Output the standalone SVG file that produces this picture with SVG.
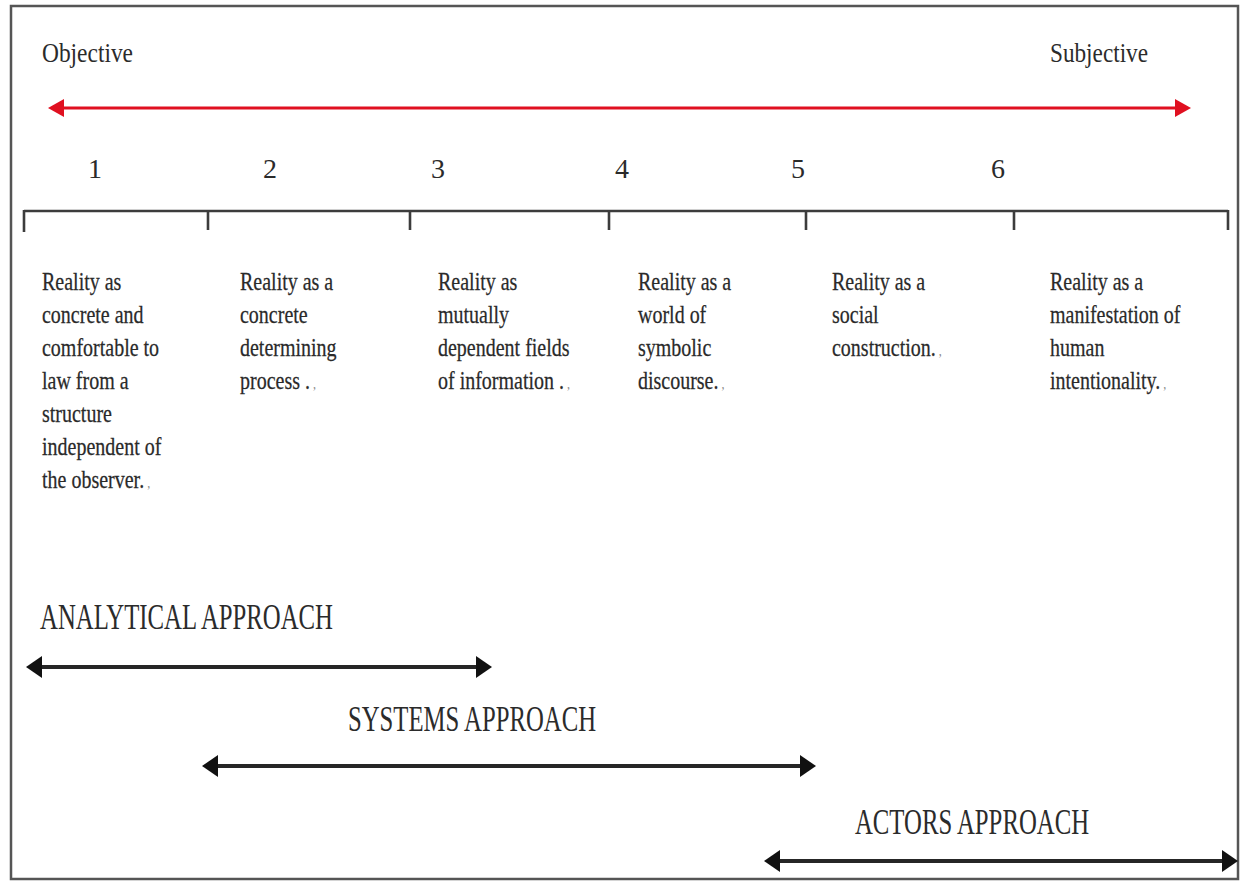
<svg xmlns="http://www.w3.org/2000/svg" width="1241" height="882" viewBox="0 0 1241 882">
  <style>
    .frame { fill: #ffffff; stroke: #555555; stroke-width: 2.5; }
    .pole { font-family: "Liberation Serif", "Times New Roman", serif; font-size: 28px; fill: #2b2b2b; }
    .num { font-family: "Liberation Serif", "Times New Roman", serif; font-size: 28px; fill: #2b2b2b; text-anchor: middle; }
    .desc { font-family: "Liberation Serif", "Times New Roman", serif; font-size: 25px; fill: #2a2a2a; stroke: #2a2a2a; stroke-width: 0.25; }
    .pm { font-size: 15px; fill: #888888; stroke: none; }
    .appr { font-family: "Liberation Serif", "Times New Roman", serif; font-size: 36px; fill: #2b2b2b; }
    .scale { stroke: #3c3c3c; stroke-width: 2.6; fill: none; }
    .axis { stroke: #e01020; stroke-width: 3; fill: none; }
    .span { stroke: #262626; stroke-width: 4; fill: none; }
  </style>
  <defs>
    <marker id="head-red" viewBox="0 0 16 18" refX="12" refY="9" markerWidth="16" markerHeight="18" markerUnits="userSpaceOnUse" orient="auto-start-reverse">
      <path d="M0,0 L16,9 L0,18 z" fill="#e01020"/>
    </marker>
    <marker id="head-black" viewBox="0 0 16 22" refX="12" refY="11" markerWidth="16" markerHeight="22" markerUnits="userSpaceOnUse" orient="auto-start-reverse">
      <path d="M0,0 L16,11 L0,22 z" fill="#111111"/>
    </marker>
  </defs>

  <!-- outer border -->
  <rect class="frame" x="11" y="6" width="1227" height="873"/>

  <!-- end labels of the objective/subjective axis -->
  <g id="label-objective">
    <text class="pole" x="42" y="62" textLength="91" lengthAdjust="spacingAndGlyphs">Objective</text>
  </g>
  <g id="label-subjective">
    <text class="pole" x="1050" y="62" textLength="98" lengthAdjust="spacingAndGlyphs">Subjective</text>
  </g>

  <!-- position numbers -->
  <g id="numbers">
    <text class="num" x="95" y="178">1</text>
    <text class="num" x="270" y="178">2</text>
    <text class="num" x="438" y="178">3</text>
    <text class="num" x="622" y="178">4</text>
    <text class="num" x="798" y="178">5</text>
    <text class="num" x="998" y="178">6</text>
  </g>

  <!-- segmented scale bar -->
  <g id="scale">
    <path class="scale" d="M24,211 H1228"/>
    <path class="scale" d="M24,210 V232 M208,210 V230 M410,210 V230 M609,210 V230 M806,210 V230 M1014,210 V230 M1228,210 V230"/>
  </g>

  <!-- descriptions of reality, one per segment -->
  <g id="pos-1">
    <text class="desc" transform="translate(42 290) scale(0.8 1)">
      <tspan x="0" y="0">Reality as</tspan>
      <tspan x="0" y="33">concrete and</tspan>
      <tspan x="0" y="66">comfortable to</tspan>
      <tspan x="0" y="99">law from a</tspan>
      <tspan x="0" y="132">structure</tspan>
      <tspan x="0" y="165">independent of</tspan>
      <tspan x="0" y="198">the observer.<tspan class="pm"> ,</tspan></tspan>
    </text>
  </g>
  <g id="pos-2">
    <text class="desc" transform="translate(240 290) scale(0.8 1)">
      <tspan x="0" y="0">Reality as a</tspan>
      <tspan x="0" y="33">concrete</tspan>
      <tspan x="0" y="66">determining</tspan>
      <tspan x="0" y="99">process .<tspan class="pm"> ,</tspan></tspan>
    </text>
  </g>
  <g id="pos-3">
    <text class="desc" transform="translate(438 290) scale(0.8 1)">
      <tspan x="0" y="0">Reality as</tspan>
      <tspan x="0" y="33">mutually</tspan>
      <tspan x="0" y="66">dependent fields</tspan>
      <tspan x="0" y="99">of information .<tspan class="pm"> ,</tspan></tspan>
    </text>
  </g>
  <g id="pos-4">
    <text class="desc" transform="translate(638 290) scale(0.8 1)">
      <tspan x="0" y="0">Reality as a</tspan>
      <tspan x="0" y="33">world of</tspan>
      <tspan x="0" y="66">symbolic</tspan>
      <tspan x="0" y="99">discourse.<tspan class="pm"> ,</tspan></tspan>
    </text>
  </g>
  <g id="pos-5">
    <text class="desc" transform="translate(832 290) scale(0.8 1)">
      <tspan x="0" y="0">Reality as a</tspan>
      <tspan x="0" y="33">social</tspan>
      <tspan x="0" y="66">construction.<tspan class="pm"> ,</tspan></tspan>
    </text>
  </g>
  <g id="pos-6">
    <text class="desc" transform="translate(1050 290) scale(0.8 1)">
      <tspan x="0" y="0">Reality as a</tspan>
      <tspan x="0" y="33">manifestation of</tspan>
      <tspan x="0" y="66">human</tspan>
      <tspan x="0" y="99">intentionality.<tspan class="pm"> ,</tspan></tspan>
    </text>
  </g>

  <!-- approach labels -->
  <g id="analytical-approach">
    <text class="appr" x="40" y="629" textLength="293" lengthAdjust="spacingAndGlyphs">ANALYTICAL APPROACH</text>
  </g>
  <g id="systems-approach">
    <text class="appr" x="348" y="731" textLength="248" lengthAdjust="spacingAndGlyphs">SYSTEMS APPROACH</text>
  </g>
  <g id="actors-approach">
    <text class="appr" x="855" y="834" textLength="234" lengthAdjust="spacingAndGlyphs">ACTORS APPROACH</text>
  </g>

  <!-- double-headed range arrows -->
  <g id="connectors">
    <path class="axis" d="M52,108 H1187" marker-start="url(#head-red)" marker-end="url(#head-red)"/>
    <path class="span" d="M30,667 H488" marker-start="url(#head-black)" marker-end="url(#head-black)"/>
    <path class="span" d="M206,766 H812" marker-start="url(#head-black)" marker-end="url(#head-black)"/>
    <path class="span" d="M768,861 H1234" marker-start="url(#head-black)" marker-end="url(#head-black)"/>
  </g>
</svg>
